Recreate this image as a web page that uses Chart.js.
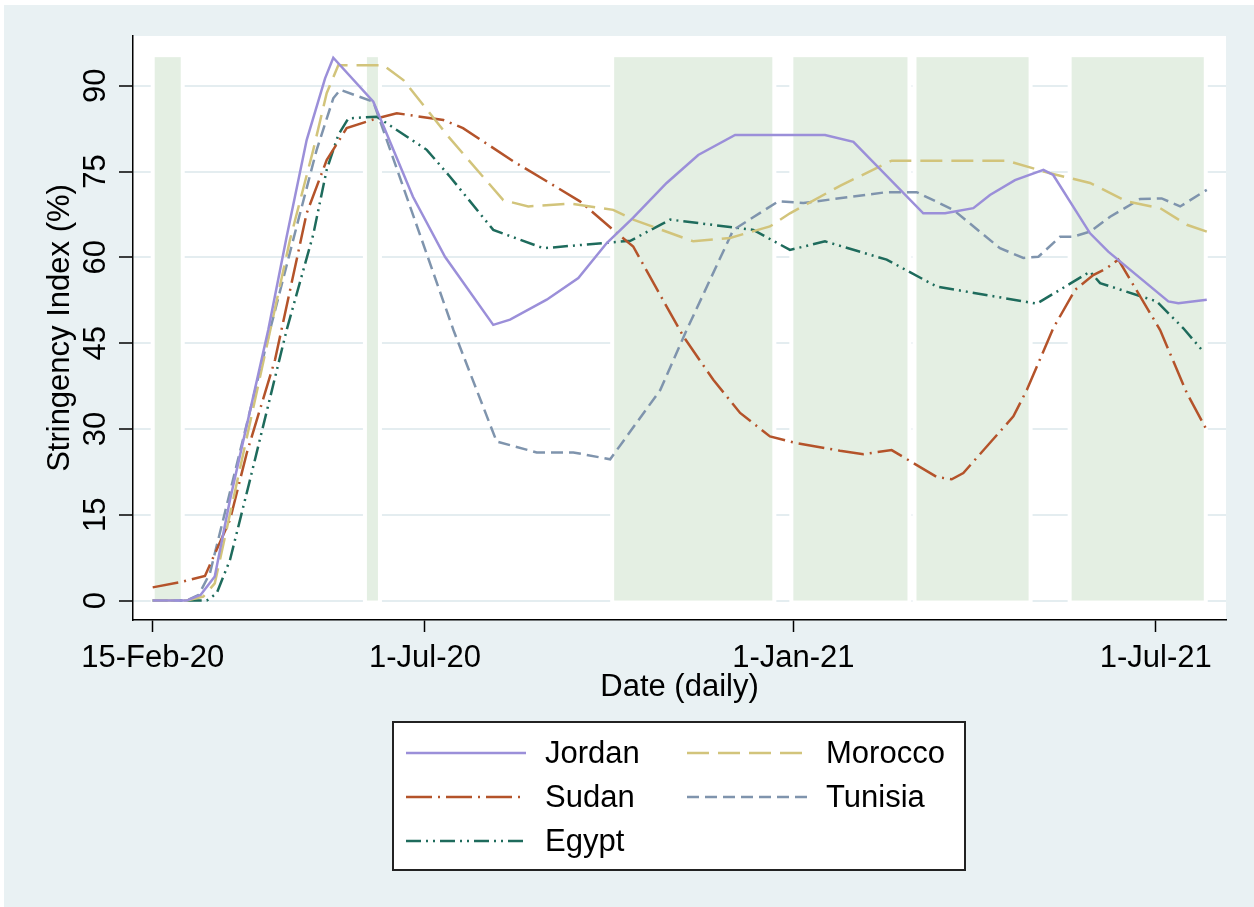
<!DOCTYPE html>
<html>
<head>
<meta charset="utf-8">
<script src="https://cdn.jsdelivr.net/npm/chart.js@4.4.1/dist/chart.umd.min.js"></script>
<style>
  html, body { margin: 0; padding: 0; background: #fff; }
  #wrap { width: 1254px; height: 907px; }
</style>
</head>
<body>
<div id="wrap"><canvas id="stringencyChart" width="1254" height="907"></canvas></div>
<script>
// days counted from 15-Feb-2020
const dayTicks = [0, 136, 320, 501]
const dayTickLabels = ['15-Feb-20', '1-Jul-20', '1-Jan-21', '1-Jul-21']
const yTicks = [0, 15, 30, 45, 60, 75, 90]

// shaded periods (start day, end day), height in index points
const bandStart = [1, 107, 230.5, 320, 381.5, 459]
const bandEnd = [14, 112.5, 309.5, 377, 437.5, 525]
const bandTop = 95

const jordanDays = [0,17,24,31,38.6,57.7,66.9,76.9,86.1,90.2,110.2,130,146,170.1,178.5,196.8,212.6,226.8,239.9,256.7,272.5,290.9,335.8,350,384.9,395.8,409.9,418.2,430.7,444.9,449.8,468.2,477.3,507.3,512.3,526.5]
const jordanValues = [0,0,1,4.2,17.6,47.3,63.6,80.5,91.3,94.9,87.2,70.6,60.1,48.2,49.1,52.6,56.4,62.5,66.9,73.0,77.9,81.4,81.4,80.2,67.7,67.7,68.6,70.9,73.5,75.3,74.4,64.2,61.0,52.3,52.0,52.6]

const moroccoDays = [0,17,25.3,31,45.3,68.6,80.2,86.9,92.7,115.2,125.2,147.7,175.1,187.6,208.4,230,240,270,288.4,308.3,318.3,343.3,369.1,426.6,448.2,468.2,486.5,503.2,516.5,526.5]
const moroccoValues = [0,0,0.7,3,25.8,63.1,78.8,88.7,93.6,93.6,91.0,81.1,70.0,68.9,69.4,68.3,66.6,62.8,63.4,65.4,67.7,72.5,76.9,76.9,74.7,73.0,69.8,68.6,65.7,64.5]

const sudanDays = [0,13.6,26.1,38.6,47,61.1,76.9,86.9,96.9,111.9,121.9,145.2,155,180.1,196.8,213.4,230,240,265,280,293.4,308.3,321.7,343.3,355,369.1,391.6,399.1,404.9,429.9,436.6,449.8,460.7,469.8,476.5,482.3,503.2,516.5,526.5]
const sudanValues = [2.3,3.2,4.3,14.1,25.8,42.1,67.7,77.0,82.6,84.3,85.2,84.0,82.6,76.8,73.3,69.8,64.8,61.9,46.2,38.6,32.8,28.7,27.5,26.2,25.6,26.3,21.6,21.2,22.3,32.2,36.8,47.6,54.3,56.9,58.1,59.6,47.3,36.3,29.8]

const tunisiaDays = [0,17,23,28.6,58.6,71.9,81.9,90.2,93.6,110.2,150.2,171.8,191.8,210.1,228.5,253.5,266.7,290,312.5,325,366.6,381.6,399.9,423.2,434.9,442.4,453.2,459.8,468.2,478.2,493.2,504,513.2,526.5]
const tunisiaValues = [0,0,1,4.8,47.3,65.4,78.8,87.8,89.3,87.2,47.3,27.8,25.9,25.9,24.7,36.8,47.3,64.8,69.8,69.5,71.4,71.4,68.3,61.6,59.9,60.1,63.6,63.6,64.5,67.1,70.2,70.3,68.9,71.8]

const egyptDays = [0,27,32,38.6,48.6,66.9,80.2,86.9,92.7,97.7,111.9,136.9,148.5,170.1,195.1,238.6,258.5,300,318.3,335.8,366.6,391.6,441.6,468.2,473.2,501.5,514.8,524.8]
const egyptValues = [0,0,1.3,7.1,21.1,47.3,64,75.3,81.4,84.3,84.6,78.8,74.1,64.8,61.6,62.9,66.6,64.8,61.3,62.8,59.6,54.9,51.9,57.5,55.5,52.3,47.6,43.5]

const FONT = '"Liberation Sans", Arial, sans-serif'
Chart.defaults.font.family = FONT
Chart.defaults.color = '#000'

const toPoints = (days, values) => days.map((d, i) => ({x: d, y: values[i]}))

const datasets = [
    {label: 'Jordan', data: toPoints(jordanDays, jordanValues), borderColor: '#9b8fd9', borderDash: []},
    {label: 'Morocco', data: toPoints(moroccoDays, moroccoValues), borderColor: '#d2c47b', borderDash: [22, 9]},
    {label: 'Sudan', data: toPoints(sudanDays, sudanValues), borderColor: '#b4532a', borderDash: [26, 6, 2, 6]},
    {label: 'Tunisia', data: toPoints(tunisiaDays, tunisiaValues), borderColor: '#7f94ad', borderDash: [12, 6]},
    {label: 'Egypt', data: toPoints(egyptDays, egyptValues), borderColor: '#1e6b5c', borderDash: [15, 5, 2, 5, 2, 5]}
]

// light frame + white plot region, like the stata scheme
const framePlugin = {
    id: 'frame',
    beforeDraw(chart) {
        const {ctx, chartArea: a} = chart
        ctx.save()
        ctx.fillStyle = '#fff'
        ctx.fillRect(0, 0, chart.width, chart.height)
        ctx.fillStyle = '#e9f1f3'
        ctx.fillRect(4, 5, chart.width - 4, chart.height - 5)
        ctx.fillStyle = '#fff'
        ctx.fillRect(a.left, a.top, a.right - a.left, a.bottom - a.top)
        ctx.restore()
    }
}

const bandPlugin = {
    id: 'bands',
    beforeDatasetsDraw(chart) {
        const {ctx, scales: {x, y}} = chart
        const top = y.getPixelForValue(bandTop)
        const bottom = y.getPixelForValue(0)
        ctx.save()
        bandStart.forEach((s, i) => {
            const l = x.getPixelForValue(s)
            const r = x.getPixelForValue(bandEnd[i])
            ctx.fillStyle = '#fff'
            ctx.fillRect(l - 4, top - 4, r - l + 8, bottom - top + 8)
        })
        bandStart.forEach((s, i) => {
            const l = x.getPixelForValue(s)
            const r = x.getPixelForValue(bandEnd[i])
            ctx.fillStyle = '#e4efe3'
            ctx.fillRect(l, top, r - l, bottom - top)
        })
        ctx.restore()
    }
}

const yLabelPlugin = {
    id: 'yLabels',
    afterDraw(chart) {
        const {ctx, scales: {y}} = chart
        ctx.save()
        ctx.font = '31px ' + FONT
        ctx.fillStyle = '#000'
        ctx.textAlign = 'center'
        ctx.textBaseline = 'middle'
        y.ticks.forEach(t => {
            ctx.save()
            ctx.translate(96.5, y.getPixelForValue(t.value))
            ctx.rotate(-Math.PI / 2)
            ctx.fillText(String(t.value), 0, 0)
            ctx.restore()
        })
        ctx.restore()
    }
}

// boxed two column legend under the plot
const legendPlugin = {
    id: 'boxLegend',
    afterDraw(chart) {
        const {ctx} = chart
        const box = {left: 393, top: 722, right: 965, bottom: 870}
        const colX = [406, 687]
        const rowY = [753, 797, 841]
        ctx.save()
        ctx.fillStyle = '#fff'
        ctx.fillRect(box.left, box.top, box.right - box.left, box.bottom - box.top)
        ctx.strokeStyle = '#222'
        ctx.lineWidth = 2
        ctx.strokeRect(box.left, box.top, box.right - box.left, box.bottom - box.top)
        ctx.font = '31px ' + FONT
        ctx.textBaseline = 'middle'
        ctx.textAlign = 'left'
        chart.data.datasets.forEach((ds, i) => {
            const cx = colX[i % 2]
            const cy = rowY[Math.floor(i / 2)]
            ctx.strokeStyle = ds.borderColor
            ctx.lineWidth = 2.5
            ctx.setLineDash(ds.borderDash)
            ctx.beginPath()
            ctx.moveTo(cx, cy)
            ctx.lineTo(cx + 120, cy)
            ctx.stroke()
            ctx.setLineDash([])
            ctx.fillStyle = '#000'
            ctx.fillText(ds.label, cx + 139, cy + 1)
        })
        ctx.restore()
    }
}

new Chart(document.getElementById('stringencyChart'), {
    type: 'line',
    data: {datasets},
    options: {
        responsive: false,
        animation: false,
        layout: {padding: {left: 0, top: 36, right: 28, bottom: 197}},
        elements: {point: {radius: 0}, line: {tension: 0, borderWidth: 2.5}},
        plugins: {legend: {display: false}, tooltip: {enabled: false}},
        scales: {
            x: {
                type: 'linear',
                min: -9.84,
                max: 536.1,
                afterBuildTicks: s => { s.ticks = dayTicks.map(v => ({value: v})) },
                afterFit: s => { s.height = 90 },
                grid: {drawOnChartArea: false, tickLength: 12, tickColor: '#000', tickWidth: 1.5},
                border: {color: '#000', width: 1.5},
                ticks: {
                    padding: 8, color: '#000', font: {size: 31}, maxRotation: 0, autoSkip: false,
                    callback: (v, i) => dayTickLabels[i]
                },
                title: {display: true, text: 'Date (daily)', color: '#000', font: {size: 31}, padding: {top: 0, bottom: 4}}
            },
            y: {
                type: 'linear',
                min: -3.4,
                max: 98.7,
                afterBuildTicks: s => { s.ticks = yTicks.map(v => ({value: v})) },
                afterFit: s => { s.width = 133 },
                grid: {color: '#e4edf0', lineWidth: 2, tickLength: 14, tickColor: '#000', tickWidth: 1.5},
                border: {color: '#000', width: 1.5},
                ticks: {display: false},
                title: {display: true, text: 'Stringency Index (%)', color: '#000', font: {size: 31}, padding: {top: 41.5, bottom: 0}}
            }
        }
    },
    plugins: [framePlugin, bandPlugin, yLabelPlugin, legendPlugin]
})
</script>
</body>
</html>
